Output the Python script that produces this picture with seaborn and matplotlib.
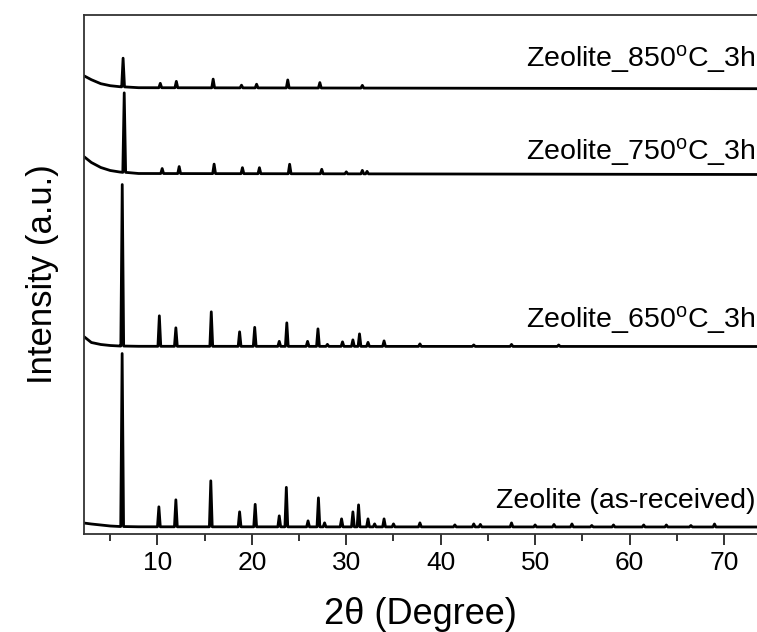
import numpy as np
import pandas as pd
import matplotlib
matplotlib.use("Agg")
import matplotlib.pyplot as plt
import seaborn as sns
from matplotlib.ticker import MultipleLocator

# ---------------- data ----------------
samples = ["Zeolite (as-received)",
           "Zeolite_650$^{\\rm o}$C_3h",
           "Zeolite_750$^{\\rm o}$C_3h",
           "Zeolite_850$^{\\rm o}$C_3h"]
offsets = [7.0, 187.5, 359.5, 445.3]          # stacking offsets (a.u.)

# low-angle background (a.u. above each baseline)
bg_theta = [2.2, 3.0, 4.0, 5.0, 6.0, 8.0, 73.5]
bg_asrec = [4.0, 3.0, 2.0, 1.0, 0.5, 0.2, 0.0]
bg_650 = [10.0, 4.0, 2.0, 1.0, 0.5, 0.2, 0.0]
bg_750 = [18.0, 12.0, 7.0, 4.0, 2.5, 1.0, 0.0]
bg_850 = [13.0, 9.0, 5.0, 3.0, 2.0, 1.0, 0.0]

# peak positions (2theta) and heights (a.u.)
pk_asrec_pos = [6.26, 10.15, 11.95, 15.65, 18.7, 20.35, 22.9, 23.65, 25.95, 27.05,
                27.7, 29.5, 30.7, 31.3, 32.3, 33.0, 34.0, 35.0, 37.8, 41.5, 43.5,
                44.2, 47.5, 50.0, 52.0, 53.9, 56.0, 58.3, 61.5, 63.9, 66.5, 69.0]
pk_asrec_h = [173, 20, 27, 46, 15, 22.5, 11, 39.5, 6, 29,
              4, 8, 15, 22, 8, 3, 8, 3, 4, 2, 3,
              2.5, 4, 2, 2.5, 3, 1.5, 2, 2, 2, 1.5, 3]

pk_650_pos = [6.27, 10.2, 11.95, 15.7, 18.7, 20.3, 22.9, 23.7, 25.9, 27.0,
              28.0, 29.6, 30.7, 31.4, 32.3, 34.0, 37.8, 43.5, 47.5, 52.5]
pk_650_h = [161.5, 30.5, 18.5, 34.5, 14.5, 19, 5, 23.5, 5, 17.5,
            2, 4.5, 6.5, 12.5, 4, 5.5, 2.5, 1.5, 2, 1.5]

pk_750_pos = [6.48, 10.5, 12.3, 16.0, 19.0, 20.8, 24.0, 27.4, 30.0, 31.7, 32.2]
pk_750_h = [79.5, 5, 7, 9.5, 6, 6, 9.5, 4.5, 2, 3.5, 2.5]

pk_850_pos = [6.36, 10.3, 12.0, 15.9, 18.9, 20.5, 23.8, 27.2, 31.7]
pk_850_h = [28.7, 4.4, 6.4, 8.7, 2.7, 3.7, 8.0, 5.4, 2.7]

backgrounds = [bg_asrec, bg_650, bg_750, bg_850]
peak_pos = [pk_asrec_pos, pk_650_pos, pk_750_pos, pk_850_pos]
peak_h = [pk_asrec_h, pk_650_h, pk_750_h, pk_850_h]

xticks = [10, 20, 30, 40, 50, 60, 70]

# ---------------- build long table ----------------
rows = []
half_w = 0.15
for name, off, bg, pos, hts in zip(samples, offsets, backgrounds, peak_pos, peak_h):
    pts = list(zip(bg_theta, bg))
    for c, h in zip(pos, hts):
        b = float(np.interp(c, bg_theta, bg))
        pts += [(c - half_w, b), (c, b + h), (c + half_w, b)]
    pts.sort(key=lambda p: p[0])
    for t, v in pts:
        rows.append({"sample": name, "theta": t, "intensity": v + off})
df = pd.DataFrame(rows)

# ---------------- plot ----------------
sns.set_theme(style="ticks")
plt.rcParams["font.family"] = ["Liberation Sans", "DejaVu Sans"]
plt.rcParams["mathtext.fontset"] = "custom"
plt.rcParams["mathtext.rm"] = "Liberation Sans"
plt.rcParams["mathtext.it"] = "Liberation Sans:italic"
plt.rcParams["text.color"] = "black"
plt.rcParams["axes.labelcolor"] = "black"

fig = plt.figure(figsize=(7.57, 6.32), dpi=100)
ax = fig.add_axes([84 / 757, 1 - 534 / 632, 1 - 84 / 757, (534 - 15) / 632])

sns.lineplot(data=df, x="theta", y="intensity", units="sample", estimator=None,
             sort=False, color="black", linewidth=2.0, ax=ax, legend=False)

ax.set_xlim(2.22, 73.5)
ax.set_ylim(0, 519)
ax.set_yticks([])
ax.set_xticks(xticks)
ax.xaxis.set_minor_locator(MultipleLocator(5))
ax.tick_params(axis="x", which="major", direction="out", length=8, width=1.3,
               labelsize=19, pad=4, colors="#222222", labelcolor="black")
ax.tick_params(axis="x", which="minor", direction="out", length=5, width=1.3,
               colors="#222222")
for s in ["left", "top", "bottom"]:
    ax.spines[s].set_color("#333333")
    ax.spines[s].set_linewidth(1.3)
ax.spines["right"].set_visible(False)

ax.set_xlabel("2θ (Degree)", fontsize=26, labelpad=16)
ax.set_ylabel("Intensity (a.u.)", fontsize=25, labelpad=18)

label_y = [26, 206, 374, 467]
for name, ly in zip(samples, label_y):
    ax.text(0.998, ly, name, transform=ax.get_yaxis_transform(), ha="right",
            va="baseline", fontsize=20.5, color="black")

fig.savefig("out.png", dpi=100)
